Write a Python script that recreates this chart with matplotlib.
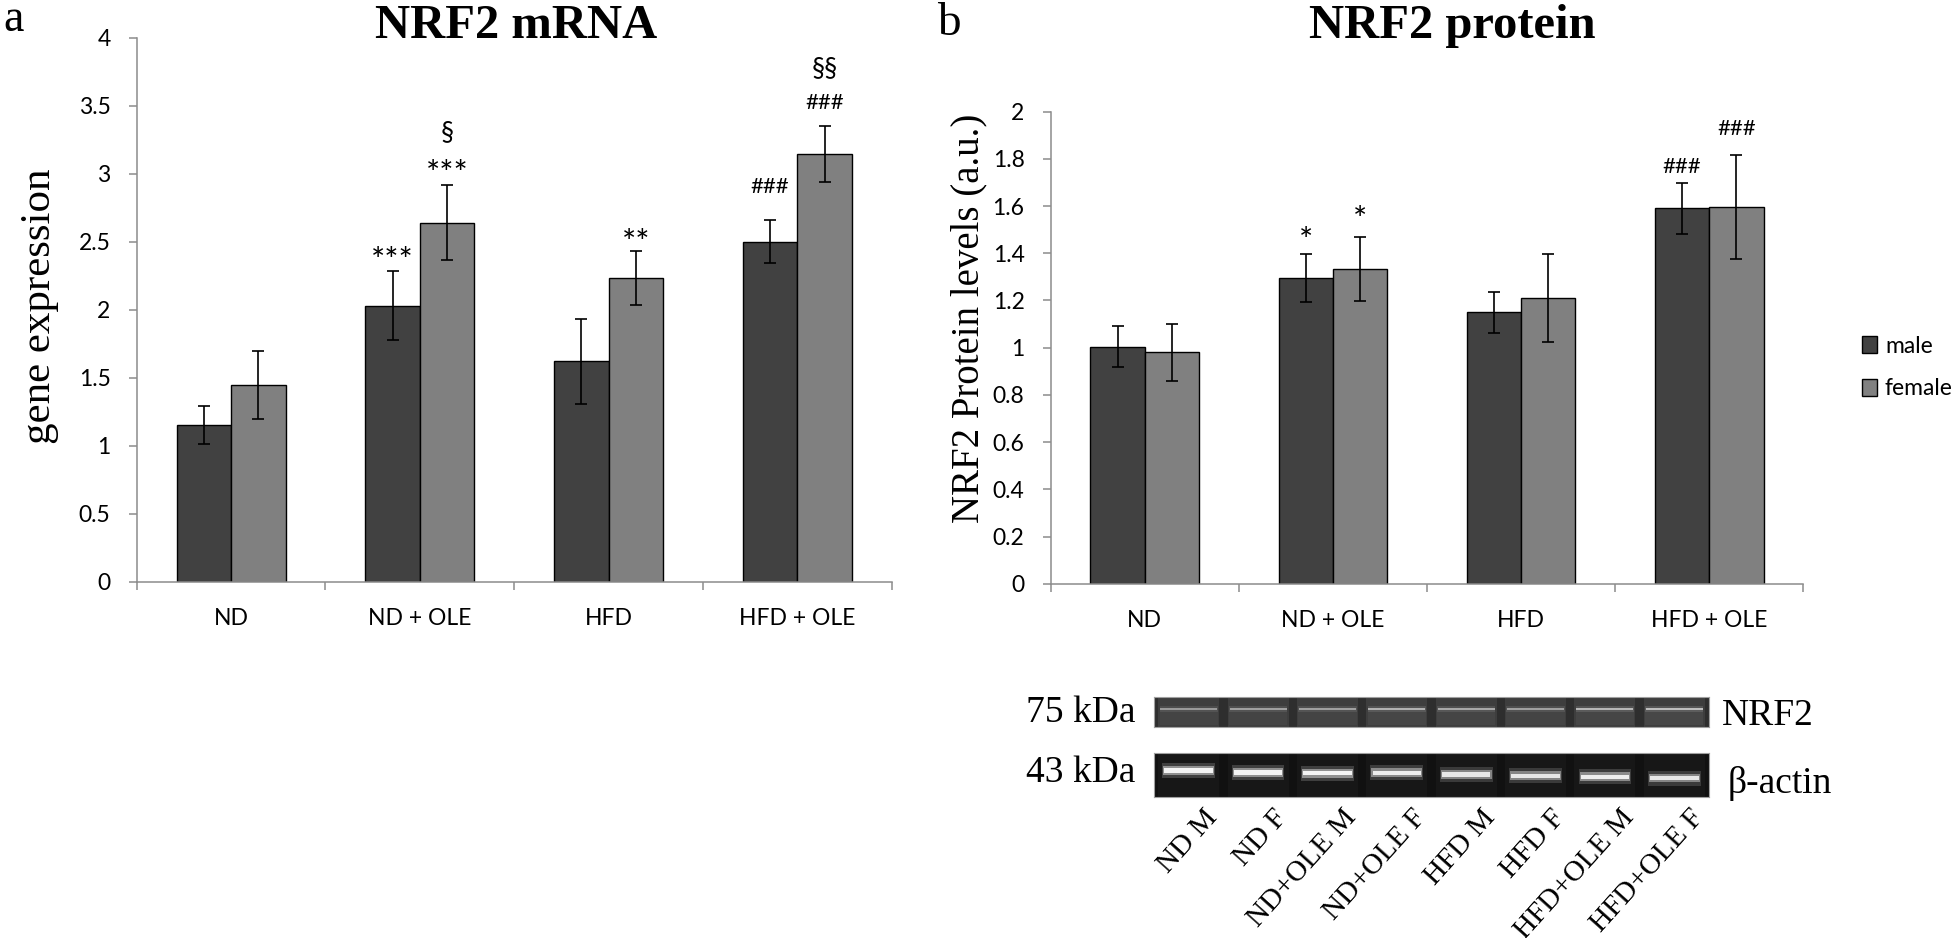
import numpy as np
import matplotlib
matplotlib.use("Agg")
import matplotlib.pyplot as plt
from matplotlib.ticker import FuncFormatter

W, H = 1960, 938

# ---- data ----
groups = ["ND", "ND + OLE", "HFD", "HFD + OLE"]
sexes = ["male", "female"]

# a: NRF2 mRNA (gene expression)
mrna_male = [1.15, 2.03, 1.62, 2.50]
mrna_male_err = [0.14, 0.255, 0.315, 0.16]
mrna_female = [1.45, 2.64, 2.235, 3.145]
mrna_female_err = [0.25, 0.275, 0.20, 0.207]

# b: NRF2 protein levels (a.u.)
prot_male = [1.005, 1.295, 1.15, 1.59]
prot_male_err = [0.087, 0.10, 0.086, 0.108]
prot_female = [0.98, 1.333, 1.211, 1.597]
prot_female_err = [0.12, 0.135, 0.186, 0.22]

# significance marks: (group, sex index, text, y)
marks_a = [(1, 0, "***", 2.42), (1, 1, "***", 3.064), (1, 1, "§", 3.30),
           (2, 1, "**", 2.558), (3, 0, "###", 2.904), (3, 1, "###", 3.518),
           (3, 1, "§§", 3.772)]
marks_b = [(1, 0, "*", 1.488), (1, 1, "*", 1.578),
           (3, 0, "###", 1.766), (3, 1, "###", 1.928)]

# western blot lanes
lanes = ["ND M", "ND F", "ND+OLE M", "ND+OLE F",
         "HFD M", "HFD F", "HFD+OLE M", "HFD+OLE F"]
nrf2_band = [0.55, 0.6, 0.6, 0.7, 0.65, 0.6, 0.75, 0.8]
actin_band = [0.95, 0.95, 0.95, 0.9, 0.85, 0.85, 0.9, 0.85]
actin_pos = [0.40, 0.44, 0.46, 0.45, 0.49, 0.52, 0.54, 0.57]

C_MALE = "#414141"
C_FEMALE = "#808080"
AXC = "#8c8c8c"
SERIF = ["Liberation Serif", "DejaVu Serif"]
plt.rcParams["font.family"] = ["Lato", "DejaVu Sans"]


def rect(x0, y0, x1, y1):
    return [x0 / W, 1 - y1 / H, (x1 - x0) / W, (y1 - y0) / H]


fig = plt.figure(figsize=(W / 100, H / 100), dpi=100)


def draw_panel(ax, male, male_err, female, female_err, ymax, ystep, marks):
    x = np.arange(len(groups))
    bw = 0.289
    bm = ax.bar(x - bw / 2, male, bw, color=C_MALE, edgecolor="black",
                linewidth=1.0, zorder=2)
    bf = ax.bar(x + bw / 2, female, bw, color=C_FEMALE, edgecolor="black",
                linewidth=1.0, zorder=2)
    for xs, v, e in ((x - bw / 2, male, male_err), (x + bw / 2, female, female_err)):
        ax.errorbar(xs, v, yerr=e, fmt="none", ecolor="black", elinewidth=1.2,
                    capsize=4, capthick=1.2, zorder=3)
    ax.set_xlim(-0.5, len(groups) - 0.5)
    ax.set_ylim(0, ymax)
    ax.set_yticks(np.arange(0, ymax + ystep / 2, ystep))
    ax.yaxis.set_major_formatter(FuncFormatter(lambda v, p: f"{v:g}"))
    ax.set_xticks(np.arange(len(groups) + 1) - 0.5)
    ax.set_xticklabels([])
    ax.set_xticks(x, minor=True)
    ax.set_xticklabels(groups, minor=True)
    for s in ("top", "right"):
        ax.spines[s].set_visible(False)
    for s in ("left", "bottom"):
        ax.spines[s].set_color(AXC)
        ax.spines[s].set_linewidth(1.1)
    ax.tick_params(which="major", direction="out", length=5.8, width=1.1,
                   color=AXC, labelsize=16.5)
    ax.tick_params(axis="y", pad=13)
    ax.tick_params(axis="x", which="minor", length=0, pad=19, labelsize=16.5)
    for gi, si, txt, yv in marks:
        if "*" in txt:
            fs, dy = 24, -7
        elif "§" in txt:
            fs, dy = 19, 0
        else:
            fs, dy = 16, 0
        ax.annotate(txt, xy=(gi + (si - 0.5) * bw, yv), xytext=(0, dy),
                    textcoords="offset points", ha="center", va="center",
                    fontsize=fs)
    return bm, bf


ax_a = fig.add_axes(rect(136.7, 37.7, 891.7, 581.7))
draw_panel(ax_a, mrna_male, mrna_male_err, mrna_female, mrna_female_err,
           4, 0.5, marks_a)

ax_b = fig.add_axes(rect(1050.7, 111.7, 1803.3, 583.7))
bm, bf = draw_panel(ax_b, prot_male, prot_male_err, prot_female, prot_female_err,
                    2, 0.2, marks_b)

ax_b.legend([bm, bf], sexes, loc="center left",
            bbox_to_anchor=(1862 / W, 1 - 367.5 / H), bbox_transform=fig.transFigure,
            frameon=False, fontsize=16.5, handlelength=0.65, handleheight=0.74,
            handletextpad=0.35, labelspacing=0.95, borderpad=0, borderaxespad=0)

# titles, panel letters, axis labels
fig.text(516 / W, 1 - 38 / H, "NRF2 mRNA", ha="center", va="baseline",
         fontsize=35, fontweight="bold", family=SERIF)
fig.text(1452 / W, 1 - 38 / H, "NRF2 protein", ha="center", va="baseline",
         fontsize=35, fontweight="bold", family=SERIF)
fig.text(3 / W, 1 - 31 / H, "a", ha="left", va="baseline", fontsize=33, family=SERIF)
fig.text(937 / W, 1 - 35 / H, "b", ha="left", va="baseline", fontsize=34, family=SERIF)
fig.text(40 / W, 1 - 306 / H, "gene expression", rotation=90, ha="center",
         va="center", fontsize=31, family=SERIF)
fig.text(969 / W, 1 - 318 / H, "NRF2 Protein levels (a.u.)", rotation=90,
         ha="center", va="center", fontsize=28, family=SERIF)

# western blot strips
BX0, BX1 = 1154, 1709
ax_n = fig.add_axes(rect(BX0, 697, BX1, 727))
ax_c = fig.add_axes(rect(BX0, 753, BX1, 797))
lx = np.arange(len(lanes)) + 0.5
for ax, bg, lane_col in ((ax_n, "#2e2e2e", "#3e3e3e"), (ax_c, "#111111", "#171717")):
    ax.set_facecolor(bg)
    ax.set_xlim(0, len(lanes))
    ax.set_ylim(1, 0)
    ax.set_xticks([])
    ax.set_yticks([])
    for s in ax.spines.values():
        s.set_color("#a0a0a0")
        s.set_linewidth(0.8)
    ax.bar(lx, 1, width=0.88, bottom=0, color=lane_col, linewidth=0)

for xi, inten in zip(lx, nrf2_band):
    ax_n.bar(xi, 0.55, width=0.84, bottom=0.38, color="white", alpha=0.06 * inten, linewidth=0)
    ax_n.bar(xi, 0.18, width=0.84, bottom=0.31, color="white", alpha=0.15 * inten, linewidth=0)
    ax_n.bar(xi, 0.07, width=0.82, bottom=0.36, color="white", alpha=0.75 * inten, linewidth=0)

for xi, inten, yp in zip(lx, actin_band, actin_pos):
    ax_c.bar(xi, 0.34, width=0.76, bottom=yp - 0.17, color="white", alpha=0.18 * inten, linewidth=0)
    ax_c.bar(xi, 0.2, width=0.73, bottom=yp - 0.1, color="white", alpha=0.45 * inten, linewidth=0)
    ax_c.bar(xi, 0.1, width=0.70, bottom=yp - 0.05, color="white", alpha=0.95 * inten, linewidth=0)

# lane labels under the blot
lane_w = (BX1 - BX0) / len(lanes)
for xi, lab in zip(lx, lanes):
    px = BX0 + xi * lane_w + 15
    fig.text(px / W, 1 - 805 / H, lab, rotation=48, rotation_mode="anchor",
             ha="right", va="top", fontsize=21, family=SERIF)

fig.text(1135 / W, 1 - 713 / H, "75 kDa", ha="right", va="center", fontsize=27, family=SERIF)
fig.text(1135 / W, 1 - 773 / H, "43 kDa", ha="right", va="center", fontsize=27, family=SERIF)
fig.text(1722 / W, 1 - 716 / H, "NRF2", ha="left", va="center", fontsize=27, family=SERIF)
fig.text(1728 / W, 1 - 783 / H, "β-actin", ha="left", va="center", fontsize=27, family=SERIF)

fig.savefig("out.png", dpi=100)
